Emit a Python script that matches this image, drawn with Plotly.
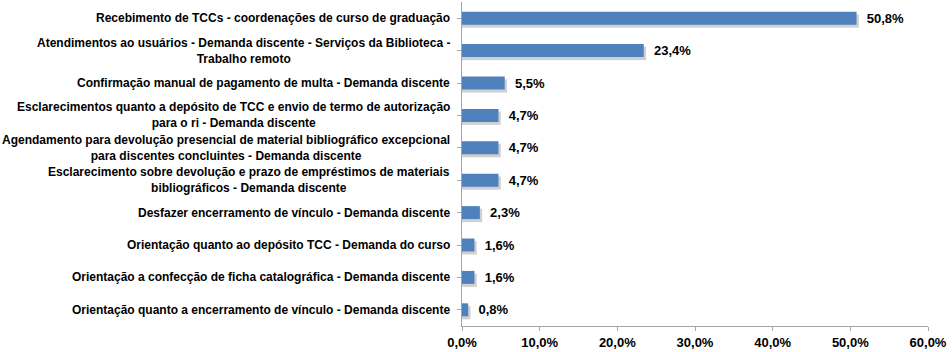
import plotly.graph_objects as go

categories = [
    "Recebimento de TCCs - coordenações de curso de graduação",
    "Atendimentos ao usuários - Demanda discente - Serviços da Biblioteca -<br>Trabalho remoto",
    "Confirmação manual de pagamento de multa - Demanda discente",
    "Esclarecimentos quanto a depósito de TCC e envio de termo de autorização<br>para o ri - Demanda discente",
    "Agendamento para devolução presencial de material bibliográfico excepcional<br>para discentes concluintes - Demanda discente",
    "Esclarecimento sobre devolução e prazo de empréstimos de materiais<br>bibliográficos - Demanda discente",
    "Desfazer encerramento de vínculo - Demanda discente",
    "Orientação quanto ao depósito TCC - Demanda do curso",
    "Orientação a confecção de ficha catalográfica - Demanda discente",
    "Orientação quanto a encerramento de vínculo - Demanda discente",
]
values = [50.8, 23.4, 5.5, 4.7, 4.7, 4.7, 2.3, 1.6, 1.6, 0.8]
x_ticks = [0, 10, 20, 30, 40, 50, 60]

FONT = "Liberation Sans, Arial, sans-serif"
idx = list(range(len(categories)))

fig = go.Figure()
# soft shadow layers
for w, off, a in [(0.44, -0.14, 0.07), (0.40, -0.11, 0.12)]:
    fig.add_trace(go.Bar(
        y=idx, x=[v + 0.3 for v in values], orientation="h",
        width=w, offset=off,
        marker=dict(color=f"rgba(0,0,0,{a})", line=dict(width=0)),
        hoverinfo="skip", showlegend=False,
    ))
fig.add_trace(go.Bar(
    y=idx, x=values, orientation="h",
    width=0.4,
    marker=dict(color="#4F81BD", line=dict(width=0)),
    text=[f"<b>{v:.1f}%</b>".replace(".", ",") for v in values],
    texttemplate="  %{text}",
    textposition="outside", cliponaxis=False, constraintext="none",
    textfont=dict(family=FONT, size=13, color="#000000"),
    showlegend=False,
))

annotations = []
for i, c in enumerate(categories):
    annotations.append(dict(
        x=0, xref="paper", y=i, yref="y", text=f"<b>{c}</b>",
        xanchor="right", yanchor="middle", align="center", xshift=-10,
        showarrow=False, font=dict(family=FONT, size=12, color="#000000"),
    ))

fig.update_layout(
    width=952, height=352,
    margin=dict(l=462, r=24, t=2, b=24),
    paper_bgcolor="white", plot_bgcolor="white",
    barmode="overlay",
    font=dict(family=FONT, size=12, color="#000000"),
    separators=",.",
    annotations=annotations,
    xaxis=dict(
        range=[0, 60], tickvals=x_ticks,
        ticktext=[f"<b>{t:.1f}%</b>".replace(".", ",") for t in x_ticks],
        showgrid=False, zeroline=False,
        showline=True, linecolor="#A6A6A6", linewidth=1,
        ticks="outside", ticklen=4, tickcolor="#A6A6A6",
        tickfont=dict(family=FONT, size=13, color="#000000"),
    ),
    yaxis=dict(
        range=[len(categories) - 0.5, -0.5],
        tickvals=idx, showticklabels=False,
        tickson="boundaries", ticks="outside", ticklen=4, tickcolor="#A6A6A6",
        showgrid=False, zeroline=False,
        showline=True, linecolor="#A6A6A6", linewidth=1,
    ),
)

fig.write_html("out.html")
